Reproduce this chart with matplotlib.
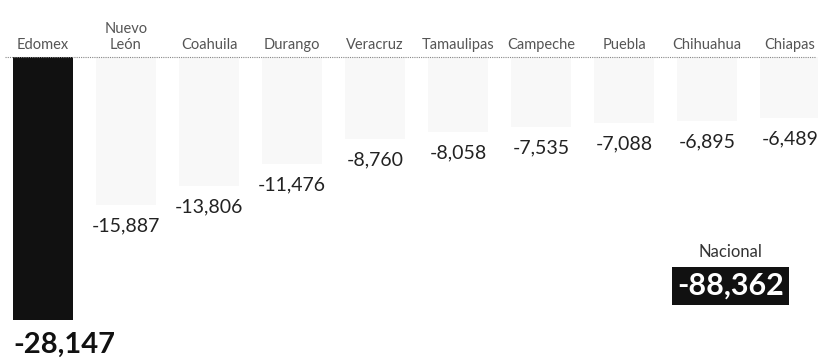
import numpy as np
import matplotlib.pyplot as plt

plt.rcParams['font.family'] = ['Lato', 'DejaVu Sans']

# --- Datos ---
estados = ['Edomex', 'Nuevo\nLeón', 'Coahuila', 'Durango', 'Veracruz',
           'Tamaulipas', 'Campeche', 'Puebla', 'Chihuahua', 'Chiapas']
valores = [-28147, -15887, -13806, -11476, -8760,
           -8058, -7535, -7088, -6895, -6489]
nacional_label = 'Nacional'
nacional = -88362

# --- Figura ---
fig = plt.figure(figsize=(8.18, 3.6), dpi=100)
ax = fig.add_axes([0, 0, 1, 1])
ax.set_xlim(-0.518, 9.337)
ax.set_ylim(-32420, 6100)
ax.axis('off')

x = np.arange(len(estados))
ancho = 0.72
colores = ['#111111'] + ['#f8f8f8'] * (len(estados) - 1)
ax.bar(x, valores, width=ancho, color=colores, edgecolor='none')

# linea base punteada
ax.plot([-0.46, x[-1] + 0.3], [0, 0], color='#888888', lw=0.8, ls=(0, (1, 1)))

# etiquetas de estados
for xi, nombre in zip(x, estados):
    ax.text(xi, 535, nombre, ha='center', va='bottom', fontsize=10.5,
            color='#555555', linespacing=1.15)

# valores
def fmt(v):
    return f'{v:,}'

for i, (xi, v) in enumerate(zip(x, valores)):
    if i == 0:
        ax.annotate(fmt(v), (xi - ancho / 2, v), xytext=(0, -18),
                    textcoords='offset points', ha='left', va='center',
                    fontsize=21, fontweight='bold', color='#111111')
    else:
        ax.annotate(fmt(v), (xi, v), xytext=(0, -15), textcoords='offset points',
                    ha='center', va='center', fontsize=14, color='#222222')

# total nacional
ax.text(8.28, -20865, nacional_label, ha='center', va='center', fontsize=12,
        color='#333333')
ax.text(8.28, -24500, fmt(nacional), ha='center', va='center', fontsize=22,
        fontweight='bold', color='white',
        bbox=dict(boxstyle='square,pad=0.17', fc='#111111', ec='none'))

fig.savefig('out.png', dpi=100)
